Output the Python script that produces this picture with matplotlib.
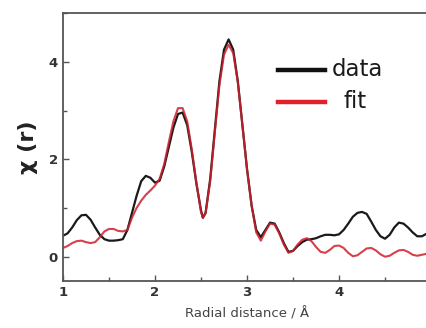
import numpy as np
import matplotlib
matplotlib.use('Agg')
import matplotlib.pyplot as plt
from matplotlib.ticker import MultipleLocator

# radial distance (A) and chi(r) values
r = [1.00, 1.05, 1.10, 1.15, 1.20, 1.25, 1.30, 1.35, 1.40, 1.45,
     1.50, 1.55, 1.60, 1.65, 1.70, 1.75, 1.80, 1.85, 1.90, 1.95,
     2.00, 2.05, 2.10, 2.15, 2.20, 2.25, 2.30, 2.35, 2.40, 2.45,
     2.50, 2.52, 2.55, 2.60, 2.65, 2.70, 2.75, 2.80, 2.85, 2.90,
     2.95, 3.00, 3.05, 3.10, 3.15, 3.20, 3.25, 3.30, 3.35, 3.40,
     3.45, 3.50, 3.55, 3.60, 3.65, 3.70, 3.75, 3.80, 3.85, 3.90,
     3.95, 4.00, 4.05, 4.10, 4.15, 4.20, 4.25, 4.30, 4.35, 4.40,
     4.45, 4.50, 4.55, 4.60, 4.65, 4.70, 4.75, 4.80, 4.85, 4.90,
     4.95, 5.00]

chi_data = [0.43, 0.48, 0.60, 0.75, 0.85, 0.86, 0.76, 0.60, 0.45, 0.36,
            0.33, 0.33, 0.34, 0.36, 0.55, 0.90, 1.25, 1.55, 1.66, 1.62,
            1.52, 1.56, 1.85, 2.25, 2.65, 2.93, 2.96, 2.70, 2.15, 1.50,
            0.95, 0.80, 0.90, 1.60, 2.60, 3.60, 4.25, 4.46, 4.25, 3.60,
            2.70, 1.80, 1.05, 0.55, 0.40, 0.55, 0.70, 0.68, 0.50, 0.28,
            0.10, 0.12, 0.22, 0.30, 0.35, 0.36, 0.38, 0.42, 0.45, 0.45,
            0.44, 0.46, 0.55, 0.68, 0.82, 0.90, 0.92, 0.88, 0.72, 0.55,
            0.42, 0.37, 0.45, 0.60, 0.70, 0.68, 0.60, 0.50, 0.42, 0.42,
            0.47, 0.52]

chi_fit = [0.18, 0.22, 0.28, 0.32, 0.33, 0.30, 0.28, 0.30, 0.40, 0.52,
           0.57, 0.57, 0.53, 0.52, 0.55, 0.80, 1.00, 1.15, 1.27, 1.36,
           1.46, 1.60, 1.90, 2.35, 2.78, 3.05, 3.05, 2.78, 2.20, 1.52,
           0.92, 0.80, 0.90, 1.55, 2.55, 3.52, 4.15, 4.35, 4.18, 3.58,
           2.70, 1.80, 1.05, 0.50, 0.33, 0.52, 0.68, 0.66, 0.48, 0.25,
           0.08, 0.12, 0.25, 0.35, 0.38, 0.32, 0.20, 0.10, 0.08, 0.14,
           0.22, 0.23, 0.18, 0.08, 0.01, 0.03, 0.10, 0.17, 0.18, 0.13,
           0.05, 0.00, 0.02, 0.08, 0.13, 0.14, 0.10, 0.04, 0.02, 0.04,
           0.06, 0.08]

fig = plt.figure(figsize=(4.27, 3.28), dpi=100)
ax = fig.add_axes([0.1475, 0.143, 0.862, 0.817])

ax.plot(r, chi_data, color='#1a1a1a', lw=1.6)
ax.plot(r, chi_fit, color='#d01f2b', lw=1.5, alpha=0.85)

ax.set_xlim(1, 5)
ax.set_ylim(-0.5, 5)
ax.set_xticks([1, 2, 3, 4])
ax.xaxis.set_minor_locator(MultipleLocator(0.5))
ax.yaxis.set_major_locator(MultipleLocator(2))
ax.yaxis.set_minor_locator(MultipleLocator(1))

ax.tick_params(which='both', direction='in', color='#555555', labelcolor='#333333',
               labelsize=9.5, width=1)
ax.tick_params(which='major', length=4)
ax.tick_params(which='minor', length=3)
for lab in ax.get_xticklabels() + ax.get_yticklabels():
    lab.set_fontweight('bold')
for s in ax.spines.values():
    s.set_color('#555555')
    s.set_linewidth(1.3)

ax.set_xlabel('Radial distance / Å', fontsize=9.5, color='#444444', labelpad=6)
ax.set_ylabel('χ (r)', fontsize=16, fontweight='bold', color='#222222', labelpad=8)

# hand-placed legend
ax.plot([0.584, 0.712], [0.787, 0.787], color='#111111', lw=3.2, transform=ax.transAxes)
ax.plot([0.584, 0.712], [0.668, 0.668], color='#e0202a', lw=3.2, transform=ax.transAxes)
ax.text(0.731, 0.79, 'data', fontsize=16.5, color='#1a1a1a', va='center', transform=ax.transAxes)
ax.text(0.761, 0.671, 'fit', fontsize=16.5, color='#1a1a1a', va='center', transform=ax.transAxes)

fig.savefig('out.png', dpi=100)
